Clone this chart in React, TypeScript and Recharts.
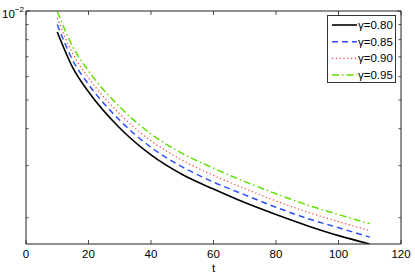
import { LineChart, Line, XAxis, YAxis } from "recharts";

// time axis and the four decay curves
const tValues = [10, 15, 20, 30, 40, 50, 60, 70, 80, 90, 100, 110];
const gamma080 = [0.00849, 0.00642, 0.00533, 0.00402, 0.00326, 0.0028, 0.0025, 0.00225, 0.00205, 0.00188, 0.00174, 0.00163];
const gamma085 = [0.009, 0.0068, 0.00565, 0.00427, 0.00346, 0.00297, 0.00264, 0.00239, 0.00217, 0.00199, 0.00185, 0.00172];
const gamma090 = [0.00947, 0.00716, 0.00594, 0.00449, 0.00364, 0.00313, 0.00278, 0.00251, 0.00228, 0.00209, 0.00194, 0.00181];
const gamma095 = [0.00996, 0.00756, 0.00627, 0.00474, 0.00384, 0.0033, 0.00294, 0.00265, 0.00241, 0.00221, 0.00205, 0.00191];

const seriesLabels = ["γ=0.80", "γ=0.85", "γ=0.90", "γ=0.95"];
const xTicks = [0, 20, 40, 60, 80, 100, 120];
const yTicks = [0.002, 0.003, 0.004, 0.005, 0.006, 0.007, 0.008, 0.009, 0.01];

const data = tValues.map((t, i) => ({
  t,
  g080: gamma080[i],
  g085: gamma085[i],
  g090: gamma090[i],
  g095: gamma095[i],
}));

const ink = "#222";
const font = "'Liberation Sans', Arial, Helvetica, sans-serif";

const styles = [
  { key: "g080", color: "#000000", dash: undefined, width: 1.6 },
  { key: "g085", color: "#2a4fff", dash: "6 4", width: 1.5 },
  { key: "g090", color: "#ff3a3a", dash: "1.2 2.6", width: 1.2 },
  { key: "g095", color: "#5fe000", dash: "7 3 1.5 3", width: 1.5 },
];

function BottomTick({ x, y, payload }: any) {
  return (
    <g>
      <line x1={x} y1={y} x2={x} y2={y - 4} stroke={ink} strokeWidth={0.8} />
      <text x={x} y={y + 14} textAnchor="middle" fontSize={11.5} fill="#000" fontFamily={font}>
        {payload.value}
      </text>
    </g>
  );
}

function TopTick({ x, y }: any) {
  return <line x1={x} y1={y} x2={x} y2={y + 4} stroke={ink} strokeWidth={0.8} />;
}

function LeftTick({ x, y, payload }: any) {
  const major = payload.value === 0.01;
  return (
    <g>
      <line x1={x} y1={y} x2={x + (major ? 4 : 2.5)} y2={y} stroke={ink} strokeWidth={0.8} />
      {major && (
        <text x={x - 24} y={y + 7} fontSize={11.5} fill="#000" fontFamily={font}>
          10
          <tspan dy={-6} fontSize={8}>−2</tspan>
        </text>
      )}
    </g>
  );
}

function RightTick({ x, y, payload }: any) {
  const major = payload.value === 0.01;
  return <line x1={x} y1={y} x2={x - (major ? 4 : 2.5)} y2={y} stroke={ink} strokeWidth={0.8} />;
}

function LegendBox() {
  return (
    <div
      style={{
        position: "absolute",
        left: 327,
        top: 15,
        width: 69,
        height: 68,
        border: "1px solid #333",
        background: "#fff",
        boxSizing: "border-box",
      }}
    >
      <svg width={69} height={68} style={{ position: "absolute", left: -1, top: -1 }}>
        {styles.map((s, i) => (
          <g key={s.key}>
            <line
              x1={5}
              x2={30}
              y1={10 + i * 16.7}
              y2={10 + i * 16.7}
              stroke={s.color}
              strokeWidth={s.width}
              strokeDasharray={s.dash}
            />
            <text x={31} y={14 + i * 16.7} fontSize={11.5} fill="#000" fontFamily={font}>
              {seriesLabels[i]}
            </text>
          </g>
        ))}
      </svg>
    </div>
  );
}

export default function App() {
  return (
    <div style={{ position: "absolute", left: 0, top: 0, width: 415, height: 276, background: "#fff", fontFamily: font }}>
      <LineChart width={415} height={276} data={data} margin={{ top: 10, right: 13, bottom: 31, left: 25 }}>
        <XAxis
          xAxisId="bottom"
          dataKey="t"
          type="number"
          domain={[0, 120]}
          ticks={xTicks}
          interval={0}
          height={1}
          tickSize={0}
          tickMargin={0}
          tickLine={false}
          tick={<BottomTick />}
          axisLine={{ stroke: ink, strokeWidth: 1 }}
          label={{ value: "t", position: "bottom", offset: 19, fill: "#000", fontSize: 11.5 }}
        />
        <XAxis
          xAxisId="top"
          orientation="top"
          dataKey="t"
          type="number"
          domain={[0, 120]}
          ticks={xTicks}
          interval={0}
          height={1}
          tickSize={0}
          tickMargin={0}
          tickLine={false}
          tick={<TopTick />}
          axisLine={{ stroke: ink, strokeWidth: 1 }}
        />
        <YAxis
          yAxisId="left"
          scale="log"
          type="number"
          domain={[0.00163, 0.01]}
          allowDataOverflow
          ticks={yTicks}
          interval={0}
          width={1}
          tickSize={0}
          tickMargin={0}
          tickLine={false}
          tick={<LeftTick />}
          axisLine={{ stroke: ink, strokeWidth: 1 }}
        />
        <YAxis
          yAxisId="right"
          orientation="right"
          scale="log"
          type="number"
          domain={[0.00163, 0.01]}
          allowDataOverflow
          ticks={yTicks}
          interval={0}
          width={1}
          tickSize={0}
          tickMargin={0}
          tickLine={false}
          tick={<RightTick />}
          axisLine={{ stroke: ink, strokeWidth: 1 }}
        />
        {styles.map((s) => (
          <Line
            key={s.key}
            xAxisId="bottom"
            yAxisId="left"
            dataKey={s.key}
            type="monotone"
            stroke={s.color}
            strokeWidth={s.width}
            strokeDasharray={s.dash}
            dot={false}
            activeDot={false}
            isAnimationActive={false}
          />
        ))}
      </LineChart>
      <LegendBox />
    </div>
  );
}
